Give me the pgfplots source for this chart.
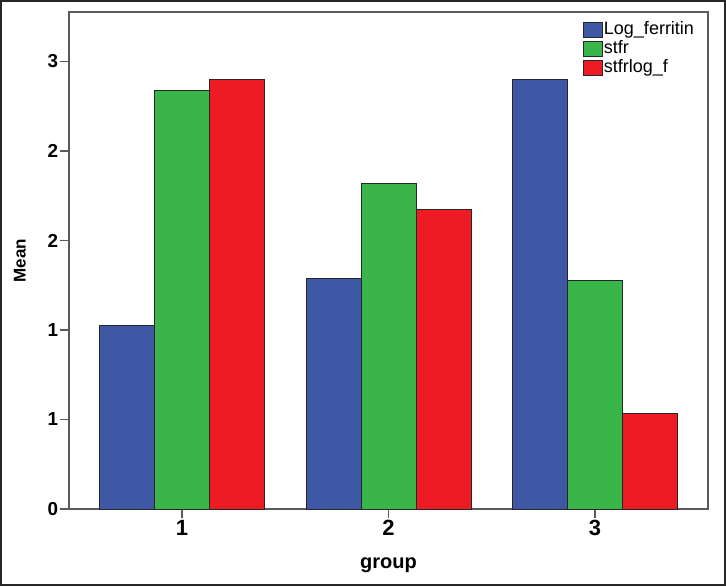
\documentclass[border=0pt]{standalone}
\usepackage{pgfplots}
\pgfplotsset{compat=1.18}
\usepackage{fontspec}
\setmainfont{Liberation Sans}

\definecolor{barblue}{RGB}{63,88,166}
\definecolor{bargreen}{RGB}{57,181,74}
\definecolor{barred}{RGB}{237,28,36}
\definecolor{framegray}{RGB}{90,90,90}

\begin{document}
\begin{tikzpicture}
\begin{axis}[
    scale only axis,
    width=319.5pt, height=248.5pt,
    ybar=0pt, bar width=27.5pt,
    xmin=0.453, xmax=3.547,
    ymin=0, ymax=2.776,
    xtick={1,2,3}, xticklabels={1,2,3},
    ytick={0,0.5,1,1.5,2,2.5}, yticklabels={0,1,1,2,2,3},
    xtick pos=bottom, ytick pos=left,
    tick align=outside,
    major tick length=4.5pt,
    tick style={framegray, line width=0.6pt},
    axis line style={framegray, line width=0.7pt},
    /pgf/number format/assume math mode=true,
    xticklabel style={font=\fontsize{11}{11}\selectfont\bfseries, inner sep=1pt},
    yticklabel style={font=\fontsize{9.4}{9.4}\selectfont\bfseries, inner sep=0.8pt},
    xlabel={group},
    ylabel={Mean},
    xlabel style={font=\fontsize{10}{10}\selectfont\bfseries, at={(axis description cs:0.5,-0.1187)}, anchor=base},
    ylabel style={font=\fontsize{8.5}{8.5}\selectfont\bfseries, at={(axis description cs:-0.0767,0.5)}, anchor=center},
    legend style={draw=none, fill=none, at={(0.804,0.984)}, anchor=north west,
        font=\fontsize{9}{9}\selectfont, inner sep=0pt,
        nodes={inner sep=0.5pt, text height=6.4pt, text depth=2.1pt}},
    legend cell align=left,
    legend image code/.code={\draw[#1] (0pt,-3.6pt) rectangle (9.5pt,3.6pt);},
]
\addplot[fill=barblue, draw=black!85, line width=0.4pt] coordinates {(1,1.027) (2,1.288) (3,2.397)};
\addlegendentry{Log\_ferritin}
\addplot[fill=bargreen, draw=black!85, line width=0.4pt] coordinates {(1,2.337) (2,1.819) (3,1.278)};
\addlegendentry{stfr}
\addplot[fill=barred, draw=black!85, line width=0.4pt] coordinates {(1,2.397) (2,1.675) (3,0.535)};
\addlegendentry{stfrlog\_f}
\end{axis}
\pgfresetboundingbox
\path[use as bounding box] (-34.5pt,-38.5pt) rectangle (328.5pt,254.5pt);
\draw[black!85, line width=1pt] (-34pt,-38pt) rectangle (328pt,254pt);
\end{tikzpicture}
\end{document}
